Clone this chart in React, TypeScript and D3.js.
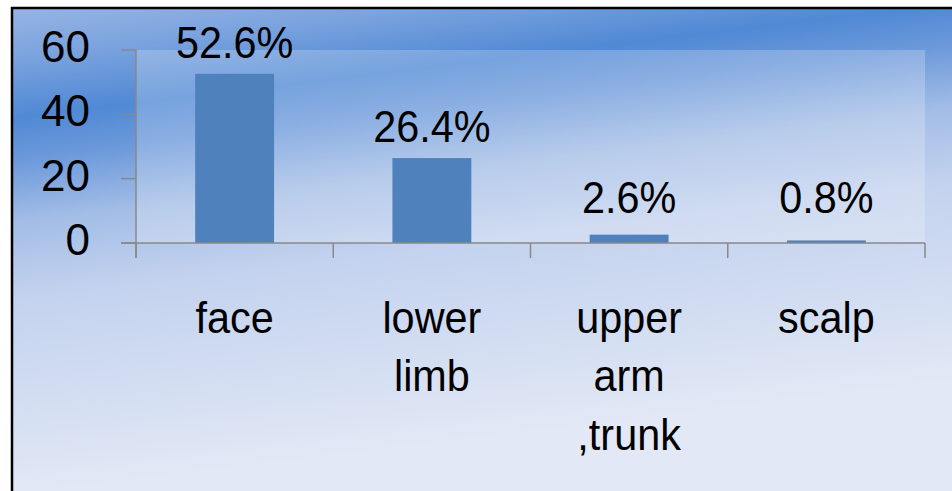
import React from "react";
import * as d3 from "d3";

// Share of lesions by body site (%)
const categories: string[][] = [["face"], ["lower", "limb"], ["upper", "arm", ",trunk"], ["scalp"]];
const values: number[] = [52.6, 26.4, 2.6, 0.8];
const valueLabels: string[] = ["52.6%", "26.4%", "2.6%", "0.8%"];
const yTicks: number[] = [0, 20, 40, 60];

const W = 952;
const H = 491;
const plot = { left: 136, right: 925, top: 50, bottom: 243 };
const FONT = "'Liberation Sans', Arial, sans-serif";
const AXIS = "#898989";
const TEXT_SQUEEZE = 0.92;

export default function App() {
  const keys = categories.map((c) => c.join(" "));
  const x = d3
    .scaleBand<string>()
    .domain(keys)
    .range([plot.left, plot.right])
    .paddingInner(0.6)
    .paddingOuter(0.3);
  const y = d3.scaleLinear().domain([0, 60]).range([plot.bottom, plot.top]);
  const step = x.step();
  const boundaries = keys.map((k) => (x(k) as number) - (step * 0.6) / 2);
  boundaries.push(plot.right);
  const cx = (k: string) => (x(k) as number) + x.bandwidth() / 2;

  return (
    <svg
      width={W}
      height={H}
      style={{ position: "absolute", left: 0, top: 0, display: "block" }}
    >
      <defs>
        <linearGradient id="sky" gradientUnits="userSpaceOnUse" x1={0} y1={0} x2={60} y2={491}>
          <stop offset="0" stopColor="#9BB8E5" />
          <stop offset="0.12" stopColor="#7BA3DE" />
          <stop offset="0.24" stopColor="#5089D5" />
          <stop offset="0.32" stopColor="#6A98DA" />
          <stop offset="0.45" stopColor="#A3BDE6" />
          <stop offset="0.6" stopColor="#C3D2EE" />
          <stop offset="0.8" stopColor="#D2DDF2" />
          <stop offset="1" stopColor="#E2E8F5" />
        </linearGradient>
      </defs>
      <rect x={0} y={0} width={W} height={H} fill="#ffffff" />
      <rect x={12} y={8} width={W + 20} height={H + 20} fill="url(#sky)" stroke="#000" strokeWidth={2.5} />

      {/* plot area wash */}
      <rect
        x={plot.left}
        y={plot.top}
        width={plot.right - plot.left}
        height={plot.bottom - plot.top}
        fill="#ffffff"
        fillOpacity={0.22}
      />

      {/* bars */}
      {values.map((v, i) => (
        <rect
          key={keys[i]}
          x={x(keys[i])}
          y={y(v)}
          width={x.bandwidth()}
          height={y(0) - y(v)}
          fill="#4F81BD"
        />
      ))}

      {/* axes */}
      <g stroke={AXIS} strokeWidth={1.5} fill="none">
        <line x1={plot.left} x2={plot.left} y1={plot.top} y2={plot.bottom + 15} />
        <line x1={plot.left - 15} x2={plot.right} y1={plot.bottom} y2={plot.bottom} />
        {yTicks.map((t) => (
          <line key={t} x1={plot.left - 15} x2={plot.left} y1={y(t)} y2={y(t)} />
        ))}
        {boundaries.map((b, i) => (
          <line key={i} x1={b} x2={b} y1={plot.bottom} y2={plot.bottom + 15} />
        ))}
      </g>

      {/* y tick labels */}
      {yTicks.map((t) => (
        <text
          key={t}
          x={90}
          y={y(t) + 12}
          textAnchor="end"
          fontFamily={FONT}
          fontSize={44}
          fill="#000"
        >
          {t}
        </text>
      ))}

      {/* value labels */}
      {values.map((v, i) => (
        <text
          key={keys[i]}
          transform={`translate(${cx(keys[i])},${Math.min(y(v) - 16, y(0) - 30)}) scale(${TEXT_SQUEEZE},1)`}
          textAnchor="middle"
          fontFamily={FONT}
          fontSize={45}
          fill="#000"
        >
          {valueLabels[i]}
        </text>
      ))}

      {/* category labels */}
      {categories.map((lines, i) => (
        <g key={keys[i]} transform={`translate(${cx(keys[i])},333) scale(${TEXT_SQUEEZE},1)`}>
          <text textAnchor="middle" fontFamily={FONT} fontSize={45} fill="#000">
            {lines.map((ln, j) => (
              <tspan key={j} x={0} y={j * 58.5}>
                {ln}
              </tspan>
            ))}
          </text>
        </g>
      ))}
    </svg>
  );
}
